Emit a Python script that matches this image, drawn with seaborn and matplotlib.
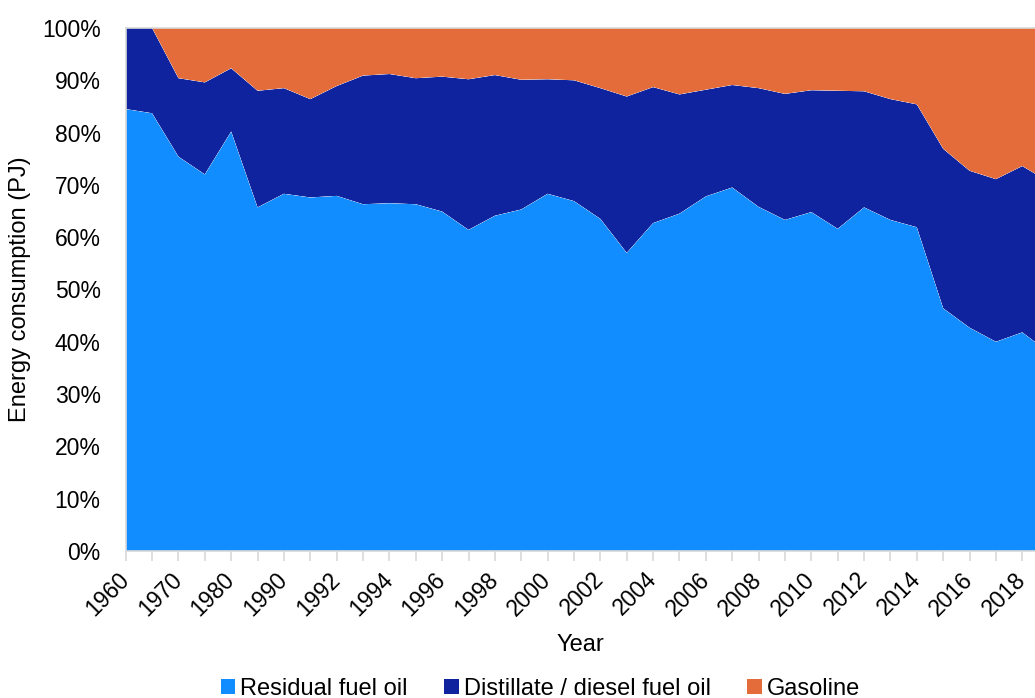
import numpy as np
import pandas as pd
import matplotlib
matplotlib.use("Agg")
import matplotlib.pyplot as plt
from matplotlib.patches import Patch
import seaborn as sns
import seaborn.objects as so

# Share of total energy consumption by fuel (%)
years = ["1960", "1965", "1970", "1975", "1980", "1985"] + [str(y) for y in range(1990, 2020)]
residual = [84.5, 83.7, 75.4, 72.0, 80.2, 65.7, 68.3, 67.6, 67.9, 66.3,
            66.5, 66.3, 64.9, 61.4, 64.1, 65.3, 68.3, 66.9, 63.5, 57.0,
            62.7, 64.5, 67.8, 69.5, 65.8, 63.3, 64.8, 61.6, 65.7, 63.3,
            61.9, 46.4, 42.7, 40.0, 41.8, 38.0]
# Residual + distillate (cumulative share)
res_dist = [100.0, 100.0, 90.4, 89.6, 92.3, 88.0, 88.5, 86.4, 88.9, 90.9,
            91.2, 90.4, 90.7, 90.2, 91.0, 90.1, 90.2, 90.0, 88.5, 86.9,
            88.7, 87.3, 88.2, 89.1, 88.5, 87.4, 88.1, 88.0, 87.9, 86.4,
            85.4, 76.9, 72.7, 71.1, 73.6, 70.6]
distillate = [round(t - r, 1) for t, r in zip(res_dist, residual)]
gasoline = [round(100.0 - t, 1) for t in res_dist]

series_names = ["Residual fuel oil", "Distillate / diesel fuel oil", "Gasoline"]
series_colors = ["#128DFF", "#10239E", "#E46C3A"]

idx = np.arange(len(years))
df = pd.concat([
    pd.DataFrame({"idx": idx, "share": np.array(vals) / 100.0, "fuel": name})
    for name, vals in zip(series_names, [residual, distillate, gasoline])
], ignore_index=True)

sns.set_theme(style="white", rc={"text.color": "black", "axes.labelcolor": "black",
                                 "xtick.color": "black", "ytick.color": "black"})
plt.rcParams["font.family"] = ["Liberation Sans", "DejaVu Sans"]

fig = plt.figure(figsize=(10.35, 6.98), dpi=100)
ax_left, ax_right, ax_top, ax_bottom = 125.7, 1035.0, 28.0, 551.0
ax = fig.add_axes([ax_left / 1035, (698 - ax_bottom) / 698,
                   (ax_right - ax_left) / 1035, (ax_bottom - ax_top) / 698])
x_max = (ax_right - ax_left) / 26.37  # visible category span

(
    so.Plot(df, x="idx", y="share", color="fuel")
    .add(so.Area(alpha=1, edgewidth=0), so.Stack(), legend=False)
    .scale(color=so.Nominal(dict(zip(series_names, series_colors)), order=series_names))
    .limit(x=(0, x_max), y=(0, 1.0))
    .on(ax)
    .plot()
)
fig.legends.clear()

ax.set_xlim(0, x_max)
ax.set_ylim(0, 1.0)
ax.set_yticks(np.arange(0, 1.01, 0.1))
ax.set_yticklabels([f"{int(round(v * 100))}%" for v in np.arange(0, 1.01, 0.1)], fontsize=16.5)
ax.set_xticks(idx[idx <= x_max])
ax.set_xticklabels([y if i % 2 == 0 else "" for i, y in enumerate(years) if i <= x_max],
                   rotation=45, ha="right", va="center", rotation_mode="anchor", fontsize=16.5)
ax.set_xlim(0, x_max)
ax.tick_params(axis="x", which="both", bottom=True, length=7, width=1.2, color="#d9d9d9",
               labelcolor="black", pad=11)
ax.tick_params(axis="y", left=False, labelcolor="black", pad=12)
ax.set_xlabel("Year", fontsize=17, labelpad=10, color="black")
ax.set_ylabel("Energy consumption (PJ)", fontsize=17, color="black")
ax.yaxis.label.set_va("center")
ax.yaxis.set_label_coords((20 - ax_left) / (ax_right - ax_left), 0.5)
ax.grid(False)
ax.set_facecolor("white")
for side in ["left", "bottom", "top"]:
    ax.spines[side].set_visible(True)
    ax.spines[side].set_color("#d9d9d9")
    ax.spines[side].set_linewidth(1.2)
ax.spines["right"].set_visible(False)

handles = [Patch(facecolor=c, edgecolor="none") for c in series_colors]
leg = fig.legend(handles, series_names, loc="center", bbox_to_anchor=(0.522, 9 / 698),
                 ncol=3, frameon=False, fontsize=17, handlelength=0.62, handleheight=0.62,
                 handletextpad=0.2, columnspacing=1.55)
for txt in leg.get_texts():
    txt.set_color("black")

fig.savefig("out.png", dpi=100)
